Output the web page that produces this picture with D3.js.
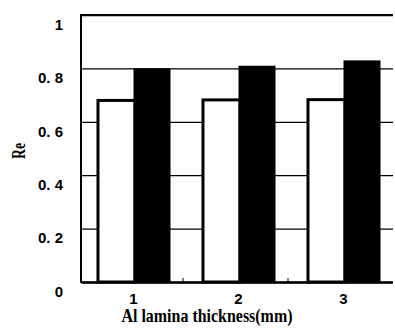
<!DOCTYPE html>
<html>
<head>
<meta charset="utf-8">
<script src="https://cdn.jsdelivr.net/npm/d3@7"></script>
<style>
  body { margin: 0; background: #fff; overflow: hidden; }
  svg { display: block; }
</style>
</head>
<body>
<div id="chart"></div>
<script>
// data
const categories = ["1", "2", "3"]
const series = ["white", "black"]
const whiteValues = [0.68, 0.682, 0.683]
const blackValues = [0.80, 0.81, 0.83]
const yTicks = [0, 0.2, 0.4, 0.6, 0.8, 1]
const yTickLabels = ["0", "0. 2", "0. 4", "0. 6", "0. 8", "1"]

const width = 395
const height = 332
const margin = ({top: 15, right: 0, bottom: 50, left: 81})

const root = d3.create("svg")
  .attr("width", width)
  .attr("height", height)
  .attr("viewBox", [0, 0, width, height])
document.getElementById("chart").appendChild(root.node())

// the original frame is cut off on the right, clip there
root.append("clipPath").attr("id", "cut")
  .append("rect").attr("x", 0).attr("y", 0).attr("width", width - 2).attr("height", height)
const svg = root.append("g").attr("clip-path", "url(#cut)")

const data = categories.map((c, i) => ({cat: c, white: whiteValues[i], black: blackValues[i]}))

let x = d3.scaleBand()
  .domain(categories)
  .range([margin.left, width + 1])
  .paddingInner(0.295)
  .paddingOuter(0.1475)

let x1 = d3.scaleBand()
  .domain(series)
  .range([0, x.bandwidth()])

let y = d3.scaleLinear()
  .domain([0, 1])
  .range([height - margin.bottom, margin.top])

const plotW = width - margin.left

// y axis + gridlines
let yAxis = g => g
  .attr("transform", `translate(${margin.left},0)`)
  .call(d3.axisLeft(y).tickValues(yTicks).tickFormat((d, i) => yTickLabels[i])
    .tickSizeInner(-plotW).tickSizeOuter(0).tickPadding(18))
  .call(g => g.select(".domain").remove())
  .call(g => g.selectAll(".tick line").attr("stroke", "#000").attr("stroke-width", 1.3))
  .call(g => g.selectAll(".tick text")
    .attr("dy", "0.95em")
    .attr("fill", "#000")
    .attr("font-family", "'Liberation Sans', Arial, sans-serif")
    .attr("font-weight", "bold")
    .attr("font-size", 15))

svg.append("g").call(yAxis)

// bars
const groups = svg.append("g")
  .selectAll("g")
  .data(data)
  .join("g")
  .attr("transform", d => `translate(${x(d.cat)},0)`)

groups.append("rect")
  .attr("x", x1("white") + 1.5)
  .attr("y", d => y(d.white))
  .attr("width", x1.bandwidth())
  .attr("height", d => y(0) - y(d.white))
  .attr("fill", "#fff")
  .attr("stroke", "#000")
  .attr("stroke-width", 3)

groups.append("rect")
  .attr("x", x1("black"))
  .attr("y", d => y(d.black))
  .attr("width", x1.bandwidth())
  .attr("height", d => y(0) - y(d.black))
  .attr("fill", "#000")

// frame
svg.append("line")
  .attr("x1", margin.left).attr("x2", width)
  .attr("y1", y(1)).attr("y2", y(1))
  .attr("stroke", "#000").attr("stroke-width", 2)

svg.append("line")
  .attr("x1", margin.left).attr("x2", margin.left)
  .attr("y1", y(1) - 1).attr("y2", y(0) + 1)
  .attr("stroke", "#000").attr("stroke-width", 2)

// x axis
let xAxis = g => g
  .attr("transform", `translate(0,${y(0)})`)
  .call(d3.axisBottom(x).tickSize(0).tickPadding(11))
  .call(g => g.select(".domain").attr("stroke", "#000").attr("stroke-width", 2.5))
  .call(g => g.selectAll(".tick text")
    .attr("fill", "#000")
    .attr("font-family", "'Liberation Sans', Arial, sans-serif")
    .attr("font-weight", "bold")
    .attr("font-size", 15))

svg.append("g").call(xAxis)

// little boundary ticks between categories
svg.append("g")
  .selectAll("line")
  .data(categories.slice(1))
  .join("line")
  .attr("x1", d => x(d) - x.step() * x.paddingInner() / 2 - 3)
  .attr("x2", d => x(d) - x.step() * x.paddingInner() / 2 - 3)
  .attr("y1", y(0))
  .attr("y2", y(0) - 4)
  .attr("stroke", "#000")
  .attr("stroke-width", 1)

// axis titles
svg.append("text")
  .attr("x", 207)
  .attr("y", 322)
  .attr("text-anchor", "middle")
  .attr("font-family", "'Liberation Serif', 'Times New Roman', serif")
  .attr("font-weight", "bold")
  .attr("font-size", 19)
  .attr("textLength", 171)
  .attr("lengthAdjust", "spacingAndGlyphs")
  .text("Al lamina thickness(mm)")

svg.append("text")
  .attr("transform", "translate(25,151) rotate(-90)")
  .attr("text-anchor", "middle")
  .attr("font-family", "'Liberation Serif', 'Times New Roman', serif")
  .attr("font-weight", "bold")
  .attr("font-size", 18)
  .attr("textLength", 16)
  .attr("lengthAdjust", "spacingAndGlyphs")
  .text("Re")
</script>
</body>
</html>
